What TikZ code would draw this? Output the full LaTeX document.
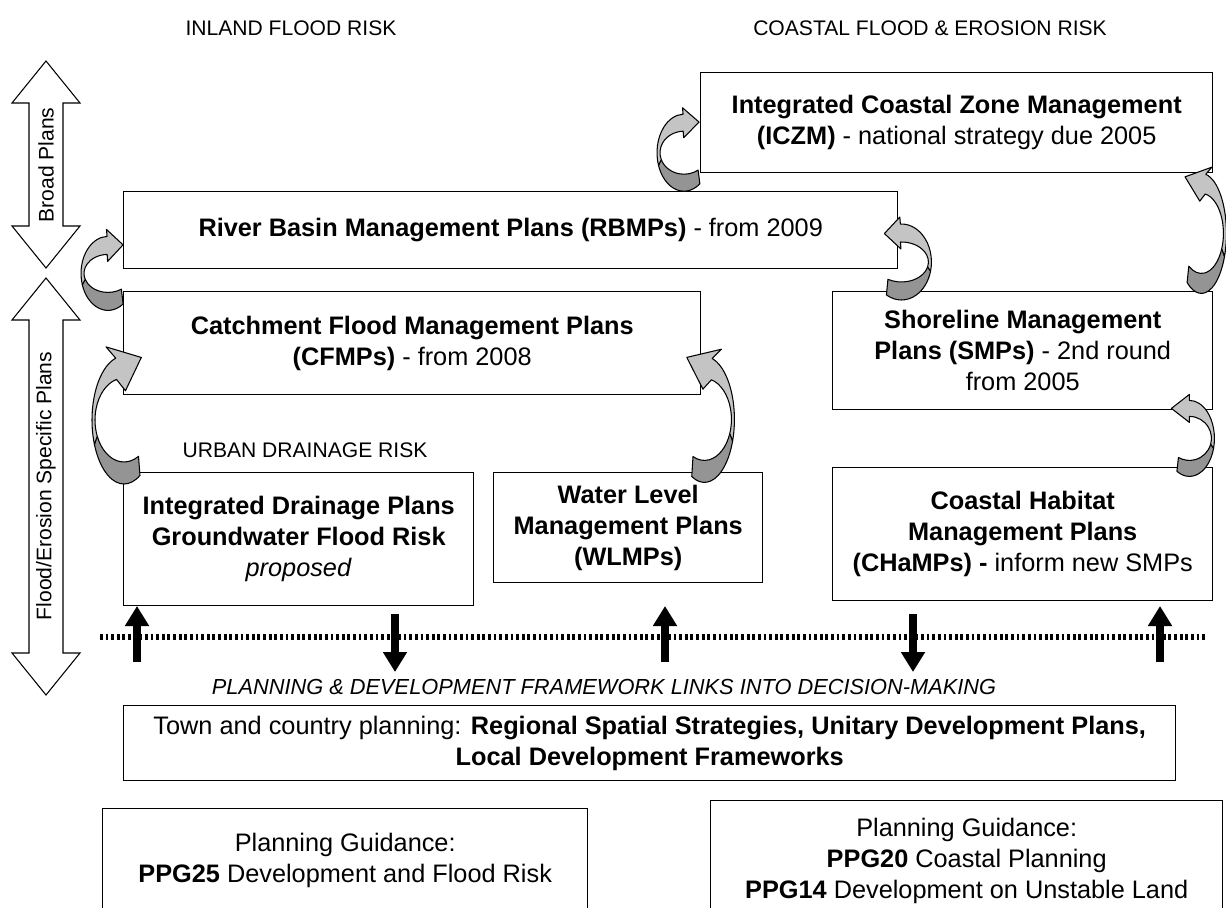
\documentclass[tikz,border=0pt]{standalone}
\usepackage{fontspec}
\setmainfont{Liberation Sans}
\usepackage{tikz}
\usetikzlibrary{calc,positioning,arrows.meta}

\definecolor{ribbonLight}{RGB}{196,196,196}
\definecolor{ribbonDark}{RGB}{148,148,148}

\newcommand{\boxfont}{\fontsize{14.4}{17.6}\selectfont}
\newcommand{\labelfont}{\fontsize{12}{14}\selectfont}

% twisted ribbon arrow: centre, start angle, end angle, x radius, y radius, band width, head half width, head length
\newcommand{\twistarrow}[8]{%
  \pgfmathsetmacro\tam{(#2+#3)/2}
  \pgfmathsetmacro\tsg{sign(#3-#2)}
  \pgfmathsetmacro\tro{#5+#6/2}
  \pgfmathsetmacro\tri{#5-#6/2}
  \pgfmathsetmacro\txi{#4-3}
  \pgfmathsetmacro\tnx{cos(#3)*#5}
  \pgfmathsetmacro\tny{sin(#3)*#4}
  \pgfmathsetmacro\tnn{veclen(\tnx,\tny)}
  \pgfmathsetmacro\tnx{\tnx/\tnn}
  \pgfmathsetmacro\tny{\tny/\tnn}
  \pgfmathsetmacro\tpx{#4*cos(#3)}
  \pgfmathsetmacro\tpy{#5*sin(#3)}
  \begin{scope}[shift={#1}]
    \filldraw[ribbon, fill=ribbonDark] ({#4*cos(#2)},{\tro*sin(#2)})
      arc[start angle=#2, end angle=\tam, x radius=#4, y radius=\tro]
      -- ({\txi*cos(\tam)},{\tri*sin(\tam)})
      arc[start angle=\tam, end angle=#2, x radius=\txi, y radius=\tri] -- cycle;
    \filldraw[ribbon, fill=ribbonLight] ({#4*cos(\tam)},{\tro*sin(\tam)})
      arc[start angle=\tam, end angle=#3, x radius=#4, y radius=\tro]
      -- ({\tpx+#7*\tnx},{\tpy+#7*\tny})
      -- ({\tpx-\tsg*#8*\tny},{\tpy+\tsg*#8*\tnx})
      -- ({\tpx-#7*\tnx},{\tpy-#7*\tny})
      -- ({\txi*cos(#3)},{\tri*sin(#3)})
      arc[start angle=#3, end angle=\tam, x radius=\txi, y radius=\tri] -- cycle;
  \end{scope}}

\tikzset{
  planbox/.style={draw, line width=0.8pt, fill=white, align=center, inner sep=2pt, font=\boxfont},
  risklabel/.style={font=\labelfont},
  ribbon/.style={draw=black, line width=0.6pt, line join=round},
  scalearrow/.style={draw=black, line width=0.6pt, fill=white},
  linkline/.style={line width=3.5pt, dash pattern=on 1.6pt off 1.6pt},
  linkarrow/.style={line width=1.7mm, -{Triangle[length=4mm,width=4.6mm]}}
}

\begin{document}
\begin{tikzpicture}[x=0.2mm, y=-0.2mm]
\useasboundingbox (0,0) rectangle (1226,908);
\clip (0,0) rectangle (1226,908);

% headings
\node[risklabel] (inland) at (291,28) {INLAND FLOOD RISK};
\node[risklabel] (coastal) at (930,28) {COASTAL FLOOD \& EROSION RISK};

% scale arrows on the left
\draw[scalearrow] (46,61) -- (80,103) -- (63,103) -- (63,226) -- (80,226) -- (46,268)
  -- (12,226) -- (29,226) -- (29,103) -- (12,103) -- cycle;
\draw[scalearrow] (46,278) -- (80,320) -- (63,320) -- (63,653) -- (80,653) -- (46,695)
  -- (12,653) -- (29,653) -- (29,320) -- (12,320) -- cycle;
\node[risklabel, rotate=90] (broad) at (46,165) {Broad Plans};
\node[risklabel, rotate=90] (specific) at (46,486) {Flood/Erosion Specific Plans};

% plan boxes
\node[planbox, anchor=north west, minimum width=102.4mm, minimum height=20mm] (iczm) at (700,72)
  {\bfseries Integrated Coastal Zone Management\\{\bfseries (ICZM)} - national strategy due 2005};
\node[planbox, anchor=north west, minimum width=154.8mm, minimum height=15.4mm] (rbmp) at (123,191)
  {{\bfseries River Basin Management Plans (RBMPs)} - from 2009};
\node[planbox, anchor=north west, minimum width=115.4mm, minimum height=20.6mm] (cfmp) at (123,291)
  {\bfseries Catchment Flood Management Plans\\{\bfseries (CFMPs)} - from 2008};
\node[planbox, anchor=north west, minimum width=76mm, minimum height=23.6mm] (smp) at (832,291)
  {\bfseries Shoreline Management\\{\bfseries Plans (SMPs)} - 2nd round\\from 2005};
\node[risklabel] (urban) at (305,450) {URBAN DRAINAGE RISK};
\node[planbox, anchor=north west, minimum width=70mm, minimum height=26.6mm] (idp) at (123,472)
  {\bfseries Integrated Drainage Plans\\\bfseries Groundwater Flood Risk\\\textit{proposed}};
\node[planbox, anchor=north west, minimum width=53.8mm, minimum height=22mm] (wlmp) at (493,472)
  {\bfseries Water Level\\\bfseries Management Plans\\\bfseries (WLMPs)};
\node[planbox, anchor=north west, minimum width=76mm, minimum height=26.6mm] (champ) at (832,467)
  {\bfseries Coastal Habitat\\\bfseries Management Plans\\{\bfseries (CHaMPs) -} inform new SMPs};

% planning framework
\coordinate (dotW) at (100,637);
\coordinate (dotE) at (1205,637);
\draw[linkline] (dotW) -- (dotE);
\foreach \lx/\ly/\ld [count=\i] in {137/662/-56, 395/614/58, 665/662/-56, 913/614/58, 1160/662/-56} {
  \coordinate (link\i) at (\lx,\ly);
  \draw[linkarrow] (link\i) -- ++(0,\ld);
}
\node[risklabel, font=\fontsize{12.4}{14}\selectfont\itshape] (framework) at (604,687)
  {PLANNING \& DEVELOPMENT FRAMEWORK LINKS INTO DECISION-MAKING};
\node[planbox, anchor=north west, minimum width=210.4mm, minimum height=15mm] (town) at (123,705)
  {Town and country planning: {\bfseries Regional Spatial Strategies, Unitary Development Plans,}\\\bfseries Local Development Frameworks};
\node[planbox, anchor=north west, minimum width=97mm, minimum height=20.8mm] (ppginland) at (102,808)
  {Planning Guidance:\\{\bfseries PPG25} Development and Flood Risk};
\node[planbox, anchor=north west, minimum width=102.4mm, minimum height=24mm] (ppgcoast) at (710,800)
  {Planning Guidance:\\{\bfseries PPG20} Coastal Planning\\{\bfseries PPG14} Development on Unstable Land};

% ribbon arrows between plans
\twistarrow{($(rbmp.south west)+(-15,4)$)}{56}{268}{27}{28}{18}{16}{16}
\twistarrow{($(idp.north west)+(1,-52)$)}{60}{255}{32}{53}{22}{24}{28}
\twistarrow{($(iczm.west)+(-16,30)$)}{54}{268}{27}{30}{17}{15}{16}
\twistarrow{($(rbmp.north east)+(3,71)$)}{120}{-92}{30}{29}{18}{16}{16}
\twistarrow{($(iczm.south east)+(-12,60)$)}{125}{-80}{25}{50}{20}{18}{22}
\twistarrow{($(smp.south east)+(-24,28)$)}{120}{-90}{25}{30}{16}{14}{18}
\twistarrow{($(cfmp.south east)+(3,24)$)}{115}{-75}{30}{52}{22}{22}{28}
\end{tikzpicture}
\end{document}
